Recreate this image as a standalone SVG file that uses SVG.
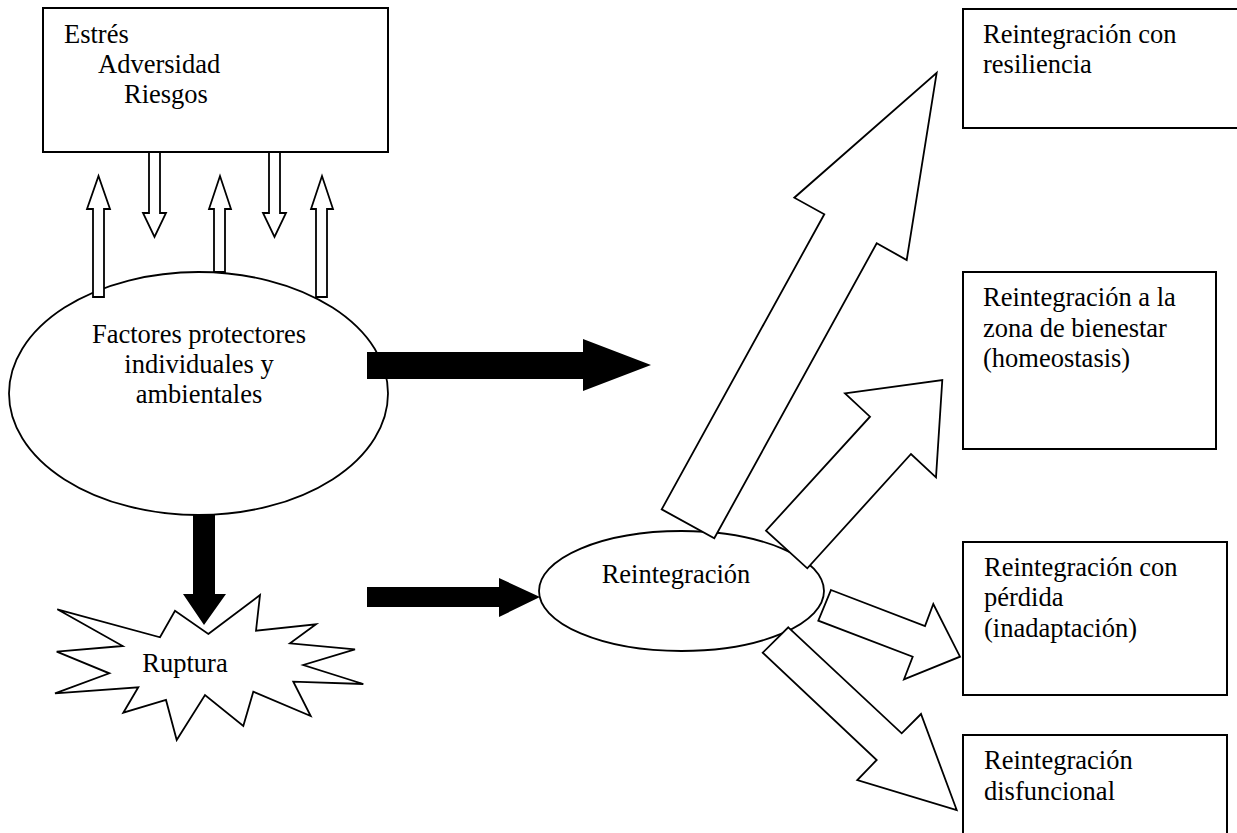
<svg xmlns="http://www.w3.org/2000/svg" width="1237" height="833" viewBox="0 0 1237 833">
<style>
text{font-family:"Liberation Serif","Times New Roman",serif;font-size:26.5px;fill:#000}
.box{fill:#fff;stroke:#000;stroke-width:2}
.shape{fill:#fff;stroke:#000;stroke-width:1.8;stroke-linejoin:miter}
.solid{fill:#000;stroke:none}
.c{text-anchor:middle}
</style>
<rect width="1237" height="833" fill="#fff"/>
<g id="node-estres">
<rect class="box" x="43" y="8" width="345" height="144"/>
<text x="64" y="43">Estrés</text>
<text x="98" y="73">Adversidad</text>
<text x="124" y="103">Riesgos</text>
</g>
<g id="node-factores">
<ellipse class="shape" cx="198.5" cy="393.5" rx="189.5" ry="121.5"/>
<text class="c" x="199" y="343">Factores protectores</text>
<text class="c" x="199" y="373">individuales y</text>
<text class="c" x="199" y="403">ambientales</text>
</g>
<g id="node-ruptura">
<polygon class="shape" points="208.3,634 260,595 256,630.7 316,624.3 290,643.3 355,649.3 303.3,665 363.3,684 293.3,681.7 310.7,716 253.3,691.7 243.3,726 205,695 176.7,740 166,700 123.3,712.7 138.3,687.3 55,693.3 109.3,673.3 56.7,651.7 122.7,646 57.3,609.3 160,637.3 175,610.7"/>
<text class="c" x="185" y="672">Ruptura</text>
</g>
<g id="node-reintegracion">
<ellipse class="shape" cx="681.5" cy="591" rx="142.5" ry="60"/>
<text class="c" x="676" y="583">Reintegración</text>
</g>
<g id="node-resiliencia">
<rect class="box" x="963" y="9" width="280" height="119"/>
<text x="983" y="43">Reintegración con</text>
<text x="983" y="73">resiliencia</text>
</g>
<g id="node-homeostasis">
<rect class="box" x="963" y="272" width="253" height="177"/>
<text x="983" y="306">Reintegración a la</text>
<text x="983" y="337">zona de bienestar</text>
<text x="983" y="367">(homeostasis)</text>
</g>
<g id="node-perdida">
<rect class="box" x="963" y="542" width="264" height="153"/>
<text x="984" y="576">Reintegración con</text>
<text x="984" y="606">pérdida</text>
<text x="984" y="637">(inadaptación)</text>
</g>
<g id="node-disfuncional">
<rect class="box" x="963" y="735" width="264" height="110"/>
<text x="984" y="769">Reintegración</text>
<text x="984" y="800">disfuncional</text>
</g>
<g id="connectors">
<polygon class="shape" points="93,297 93,209 87,209 98.5,176 110,209 104,209 104,297"/>
<polygon class="shape" points="214,272 214,209 209,209 220,176 231,209 225,209 225,272"/>
<polygon class="shape" points="316,297 316,209 311,209 322,176 333,209 327,209 327,297"/>
<polygon class="shape" points="149,152 149,213 143,213 154.5,237 166,213 160,213 160,152"/>
<polygon class="shape" points="269,152 269,213 263,213 274.5,237 286,213 280,213 280,152"/>
<polygon class="solid" points="367,352 583,352 583,339 651,365 583,391 583,379 367,379"/>
<polygon class="solid" points="367,587 499,587 499,578 540,597 499,617 499,607 367,607"/>
<polygon class="solid" points="193,515 215,515 215,594 226,594 204,625 183,594 193,594"/>
<polygon class="shape" points="936.7,72.7 906.7,260 876.7,243.3 714.3,538.3 661.7,509.3 824.3,214.3 794.3,197.7"/>
<polygon class="shape" points="942.3,380 936,477.3 911,454 807.3,568.3 766,530.7 870,416.7 845,393.3"/>
<polygon class="shape" points="831,590 925,626 933.3,604 960,656.7 904,679.3 912.7,656.7 818.3,620.7"/>
<polygon class="shape" points="788.3,627.3 901.7,733.3 921,714 956.7,810 857.3,780 876.7,760 762.7,652.7"/>
</g>
</svg>
